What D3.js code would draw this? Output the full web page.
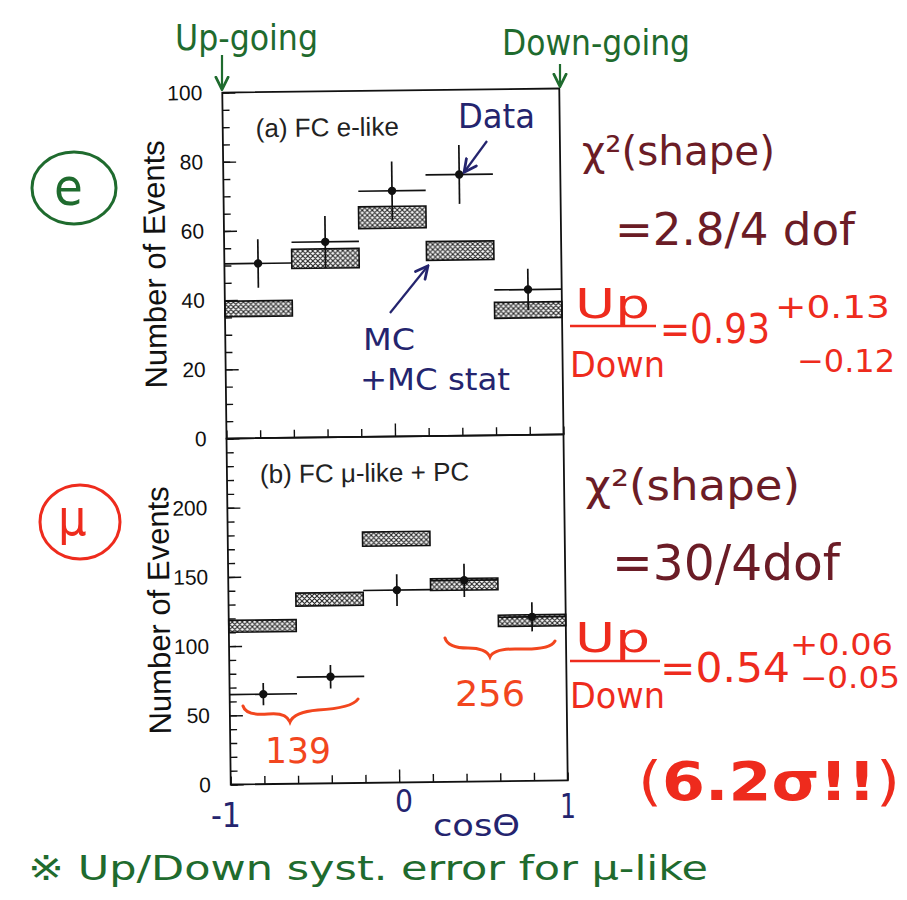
<!DOCTYPE html>
<html>
<head>
<meta charset="utf-8">
<script src="https://cdn.jsdelivr.net/npm/d3@7"></script>
<style>
  html, body { margin: 0; padding: 0; background: #fff; }
  svg { display: block; }
  .tick text { font-family: "Liberation Sans", Arial, sans-serif; }
  .hand { font-family: "DejaVu Sans Condensed", "DejaVu Sans", sans-serif; font-stretch: condensed; }
</style>
</head>
<body>
<script>
// Zenith-angle bins in cos(theta): five bins of width 0.4
const binEdges = [-1, -0.6, -0.2, 0.2, 0.6, 1];
const binCenters = [-0.8, -0.4, 0, 0.4, 0.8];

// (a) FC e-like
const eData = [50.5, 56.5, 71, 75.5, 42];
const eErr = [7, 7.5, 8.5, 8.5, 6];
const eMCLow = [35.2, 48.9, 60.2, 50.8, 33.8];
const eMCHigh = [39.7, 54.5, 66.5, 56.2, 38.4];

// (b) FC mu-like + PC
const muData = [65, 77, 139, 145.5, 118.5];
const muErr = [8, 8.5, 11.5, 12, 10.5];
const muMCLow = [110, 128.3, 171, 138.4, 111.8];
const muMCHigh = [118.6, 137.7, 181.2, 146.9, 120];

// Axis ticks
const eMajorTicks = [0, 20, 40, 60, 80, 100];
const muMajorTicks = [0, 50, 100, 150, 200];
const xTicks = [-1, -0.8, -0.6, -0.4, -0.2, 0, 0.2, 0.4, 0.6, 0.8, 1];
const xHandLabels = ["-1", "0", "1"];
const panelTitles = ["(a) FC e-like", "(b) FC \u03bc-like + PC"];
const yTitle = "Number of Events";

const W = 907, H = 900;
const svg = d3.select("body").append("svg").attr("width", W).attr("height", H);

const defs = svg.append("defs");
const pat = defs.append("pattern").attr("id", "xhatch")
  .attr("patternUnits", "userSpaceOnUse").attr("width", 5).attr("height", 5);
pat.append("rect").attr("width", 5).attr("height", 5).attr("fill", "#fff");
pat.append("path").attr("d", "M0,0L5,5M5,0L0,5M-1,4L1,6M4,-1L6,1")
  .attr("stroke", "#222").attr("stroke-width", 1.1);

const arrow = (id, color) => defs.append("marker").attr("id", id)
  .attr("viewBox", "0 0 10 10").attr("refX", 8).attr("refY", 5)
  .attr("markerWidth", 7).attr("markerHeight", 7).attr("orient", "auto-start-reverse")
  .append("path").attr("d", "M1,1L9,5L1,9").attr("fill", "none")
  .attr("stroke", color).attr("stroke-width", 1.8).attr("stroke-linecap", "round");
arrow("arrGreen", "#1f6b2e");
arrow("arrNavy", "#24246e");

// Plot frame geometry
const frameLeft = 226.5, frameRight = 563.5, frameTop = 90.5, frameMid = 436.5, frameBottom = 782.5;
const plot = svg.append("g").attr("transform", `rotate(-0.7, ${(frameLeft + frameRight) / 2}, ${frameMid})`);

const x = d3.scaleLinear().domain([-1, 1]).range([frameLeft, frameRight]);

function panel(cfg) {
  const y = d3.scaleLinear().domain(cfg.domain).range([cfg.y1, cfg.y0]);
  const g = plot.append("g");

  // MC boxes (with MC statistical error)
  g.selectAll("rect.mc").data(cfg.mcLow).join("rect").attr("class", "mc")
    .attr("x", (d, i) => x(binEdges[i]))
    .attr("width", (d, i) => x(binEdges[i + 1]) - x(binEdges[i]))
    .attr("y", (d, i) => y(cfg.mcHigh[i]))
    .attr("height", (d, i) => y(d) - y(cfg.mcHigh[i]))
    .attr("fill", "url(#xhatch)").attr("stroke", "#111").attr("stroke-width", 1.6);

  // Data: horizontal bin-width bar, vertical error bar, dot
  const pts = g.selectAll("g.pt").data(cfg.data).join("g").attr("class", "pt");
  pts.append("line")
    .attr("x1", (d, i) => x(binEdges[i])).attr("x2", (d, i) => x(binEdges[i + 1]))
    .attr("y1", d => y(d)).attr("y2", d => y(d))
    .attr("stroke", "#111").attr("stroke-width", 1.7);
  pts.append("line")
    .attr("x1", (d, i) => x(binCenters[i])).attr("x2", (d, i) => x(binCenters[i]))
    .attr("y1", (d, i) => y(d - cfg.err[i])).attr("y2", (d, i) => y(d + cfg.err[i]))
    .attr("stroke", "#111").attr("stroke-width", 1.7);
  pts.append("circle")
    .attr("cx", (d, i) => x(binCenters[i])).attr("cy", d => y(d))
    .attr("r", 4.2).attr("fill", "#111");

  // Frame
  g.append("rect").attr("x", frameLeft).attr("y", cfg.y0)
    .attr("width", frameRight - frameLeft).attr("height", cfg.y1 - cfg.y0)
    .attr("fill", "none").attr("stroke", "#111").attr("stroke-width", 1.8);

  // Y axis: major ticks with labels, minor ticks without
  const yMajor = d3.axisLeft(y).tickValues(cfg.major).tickSize(-13).tickPadding(20)
    .tickFormat(d3.format("d"));
  const yMinor = d3.axisLeft(y).tickValues(d3.range(cfg.domain[0], cfg.domain[1] + 0.001, cfg.minorStep))
    .tickSize(-7).tickFormat("");
  const ya = g.append("g").attr("transform", `translate(${frameLeft},0)`).call(yMinor);
  ya.select(".domain").remove();
  const yb = g.append("g").attr("transform", `translate(${frameLeft},0)`).call(yMajor);
  yb.select(".domain").remove();
  g.selectAll(".tick line").attr("stroke", "#111").attr("stroke-width", 1.4);
  yb.selectAll(".tick text").attr("font-size", 21).attr("fill", "#111");

  // X axis ticks pointing up into the panel, longer at zero
  const xa = d3.axisBottom(x).tickValues(xTicks).tickSize(-8).tickFormat("");
  const xg = g.append("g").attr("transform", `translate(0,${cfg.y1})`).call(xa);
  xg.select(".domain").remove();
  xg.selectAll(".tick line").attr("stroke", "#111").attr("stroke-width", 1.4)
    .attr("y2", d => d === 0 ? -13 : -8);

  // Panel title
  g.append("text").attr("x", frameLeft + 33).attr("y", cfg.y0 + 45)
    .attr("font-family", "Liberation Sans, Arial, sans-serif").attr("font-size", 26)
    .attr("fill", "#222").text(cfg.title);

  // Y title
  g.append("text")
    .attr("transform", `translate(${frameLeft - 59},${(cfg.y0 + cfg.y1) / 2 - 2}) rotate(-90)`)
    .attr("text-anchor", "middle")
    .attr("font-family", "Liberation Sans, Arial, sans-serif").attr("font-size", 31)
    .attr("fill", "#111").text(yTitle);
  return y;
}

panel({ domain: [0, 100], y0: frameTop, y1: frameMid, major: eMajorTicks, minorStep: 5,
  data: eData, err: eErr, mcLow: eMCLow, mcHigh: eMCHigh, title: panelTitles[0] });
panel({ domain: [0, 250], y0: frameMid, y1: frameBottom, major: muMajorTicks, minorStep: 10,
  data: muData, err: muErr, mcLow: muMCLow, mcHigh: muMCHigh, title: panelTitles[1] });

// Handwritten notes
const GREEN = "#1f6b2e", NAVY = "#24246e", MAROON = "#6b1c26", RED = "#ee2b1d", ORANGE = "#f2461e";
function note(txt, xx, yy, size, color, width, opts = {}) {
  const t = svg.append("text").attr("class", "hand").attr("x", xx).attr("y", yy)
    .attr("font-size", size).attr("fill", color)
    .attr("font-weight", opts.bold ? "bold" : "normal").text(txt);
  if (width) t.attr("textLength", width).attr("lengthAdjust", "spacingAndGlyphs");
  return t;
}

note("Up-going", 175, 50, 36, GREEN, 143);
note("Down-going", 502, 55, 36, GREEN, 188);
svg.append("line").attr("x1", 222).attr("y1", 55).attr("x2", 222).attr("y2", 88)
  .attr("stroke", GREEN).attr("stroke-width", 2.2).attr("marker-end", "url(#arrGreen)");
svg.append("line").attr("x1", 560).attr("y1", 64).attr("x2", 560).attr("y2", 85)
  .attr("stroke", GREEN).attr("stroke-width", 2.2).attr("marker-end", "url(#arrGreen)");

svg.append("ellipse").attr("cx", 74).attr("cy", 188).attr("rx", 42).attr("ry", 36)
  .attr("fill", "none").attr("stroke", GREEN).attr("stroke-width", 3);
note("e", 54, 205, 52, GREEN);
svg.append("ellipse").attr("cx", 80).attr("cy", 522).attr("rx", 40).attr("ry", 37)
  .attr("fill", "none").attr("stroke", RED).attr("stroke-width", 3);
note("\u03bc", 58, 535, 50, RED);

note("Data", 458, 128, 34, NAVY, 77);
svg.append("line").attr("x1", 487).attr("y1", 141).attr("x2", 465).attr("y2", 171)
  .attr("stroke", NAVY).attr("stroke-width", 2.2).attr("marker-end", "url(#arrNavy)");
note("MC", 363, 350, 30, NAVY, 52);
note("+MC stat", 360, 390, 30, NAVY, 150);
svg.append("line").attr("x1", 390).attr("y1", 313).attr("x2", 427).attr("y2", 267)
  .attr("stroke", NAVY).attr("stroke-width", 2.2).attr("marker-end", "url(#arrNavy)");

// e-like statistics
note("\u03c7\u00b2(shape)", 582, 165, 40, MAROON, 193);
note("=2.8/4 dof", 615, 245, 44, MAROON, 240);
note("Up", 575, 318, 40, RED, 75);
svg.append("line").attr("x1", 570).attr("x2", 656).attr("y1", 326).attr("y2", 326)
  .attr("stroke", RED).attr("stroke-width", 2.5);
note("Down", 570, 377, 36, RED, 95);
note("=0.93", 660, 343, 40, RED, 110);
note("+0.13", 775, 318, 32, RED, 115);
note("\u22120.12", 797, 372, 32, RED, 98);

// mu-like statistics
note("\u03c7\u00b2(shape)", 585, 500, 42, MAROON, 215);
note("=30/4dof", 612, 580, 50, MAROON, 228);
note("Up", 575, 652, 40, RED, 75);
svg.append("line").attr("x1", 570).attr("x2", 660).attr("y1", 661).attr("y2", 661)
  .attr("stroke", RED).attr("stroke-width", 2.5);
note("Down", 570, 708, 36, RED, 95);
note("=0.54", 660, 682, 40, RED, 130);
note("+0.06", 790, 655, 30, RED, 103);
note("\u22120.05", 800, 688, 30, RED, 100);
const sig = svg.append("text").attr("class", "hand").attr("x", 638).attr("y", 800)
  .attr("font-size", 54).attr("fill", RED).attr("textLength", 262).attr("lengthAdjust", "spacingAndGlyphs");
sig.append("tspan").text("(");
sig.append("tspan").attr("font-weight", "bold").text("6.2\u03c3!!");
sig.append("tspan").text(")");

// Braces over the up-going and down-going bins
svg.append("path").attr("d", "M243,706 Q246,716 268,714 Q286,712 290,722 Q294,712 318,710 Q352,708 358,699")
  .attr("fill", "none").attr("stroke", ORANGE).attr("stroke-width", 3).attr("stroke-linecap", "round");
note("139", 265, 763, 36, ORANGE, 66);
svg.append("path").attr("d", "M445,638 Q448,648 468,648 Q486,648 490,657 Q494,648 520,649 Q550,650 555,641")
  .attr("fill", "none").attr("stroke", ORANGE).attr("stroke-width", 3).attr("stroke-linecap", "round");
note("256", 455, 706, 36, ORANGE, 70);

// Hand-written axis labels
note(xHandLabels[0], 211, 827, 34, NAVY, 30);
note(xHandLabels[1], 395, 812, 32, NAVY, 18);
note(xHandLabels[2], 560, 818, 34, NAVY, 16);
note("cos\u0398", 433, 836, 30, NAVY, 87);

note("\u203b Up/Down  syst. error for \u03bc-like", 28, 880, 34, GREEN, 680);
</script>
</body>
</html>
